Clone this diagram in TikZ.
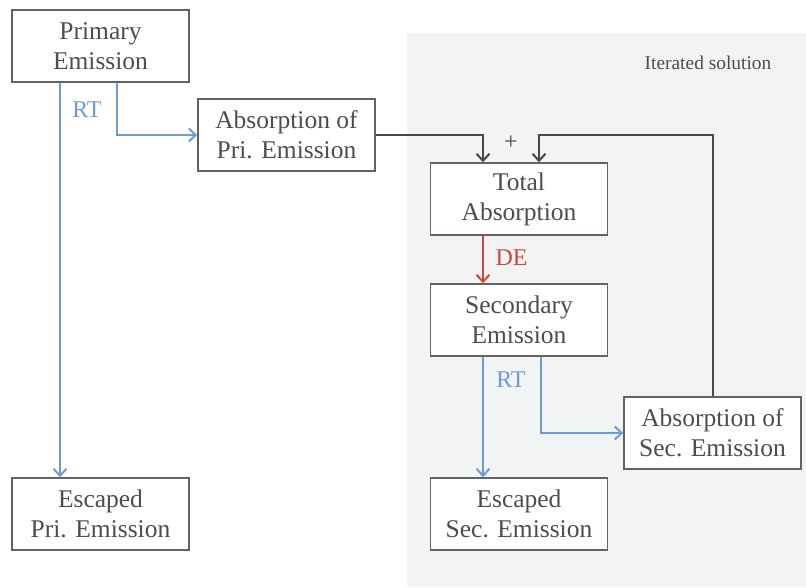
\documentclass[tikz,border=0pt]{standalone}
\usepackage{fontspec}
\setmainfont{Liberation Serif}
\newfontfamily\timesfont{Liberation Serif}
\usetikzlibrary{arrows.meta}
\definecolor{rtblue}{HTML}{6F9AD8}
\definecolor{dered}{HTML}{D0483A}
\definecolor{linegray}{HTML}{474747}
\definecolor{txtgray}{HTML}{4D4D4D}
\definecolor{iterbg}{HTML}{F2F3F3}
\begin{document}
\begin{tikzpicture}[x=1pt,y=-1pt,
  box/.style={draw=linegray!85,line width=1.6pt,fill=white,minimum width=177pt,
    minimum height=72pt,inner sep=0pt,align=center,text=txtgray,
    font=\timesfont\fontsize{25.5}{30}\selectfont},
  flow/.style={line width=2pt,-{Straight Barb[length=7pt,width=13pt]}},
  lbl/.style={font=\timesfont\fontsize{24}{28}\selectfont}]
  \useasboundingbox (0,0) rectangle (806,587);
  \fill[iterbg] (407,33) rectangle (806,587);
  \node[font=\timesfont\fontsize{19.4}{22}\selectfont,text=txtgray] (iter) at (708,63) {Iterated solution};
  % boxes
  \node[box] (pe) at (100.5,46) {Primary\\Emission};
  \node[box] (ape) at (286.5,135) {Absorption of\\Pri. Emission};
  \node[box] (ta) at (519,199) {Total\\Absorption};
  \node[box] (se) at (519,320) {Secondary\\Emission};
  \node[box] (ase) at (712.5,433) {Absorption of\\Sec. Emission};
  \node[box] (epe) at (100.5,514) {Escaped\\Pri. Emission};
  \node[box] (ese) at (519,514) {Escaped\\Sec. Emission};
  % primary
  \draw[flow,rtblue] ([xshift=-40.5pt]pe.south) -- ([xshift=-40.5pt]epe.north);
  \draw[flow,rtblue] ([xshift=16.5pt]pe.south) |- (ape.west);
  \node[lbl,text=rtblue] (rt1) at (87,110) {RT};
  % iteration
  \draw[flow,linegray] (ape.east) -| ([xshift=-36pt]ta.north);
  \draw[flow,linegray] (ase.north) -- (ase.north |- ape.east) -| ([xshift=20pt]ta.north);
  \node[lbl,text=linegray] (plus) at (511,143) {+};
  \draw[flow,dered] ([xshift=-36pt]ta.south) -- ([xshift=-36pt]se.north);
  \node[lbl,text=dered] (de) at (511.5,258) {DE};
  \draw[flow,rtblue] ([xshift=-36pt]se.south) -- ([xshift=-36pt]ese.north);
  \draw[flow,rtblue] ([xshift=22pt]se.south) |- (ase.west);
  \node[lbl,text=rtblue] (rt2) at (511,380) {RT};
\end{tikzpicture}
\end{document}
